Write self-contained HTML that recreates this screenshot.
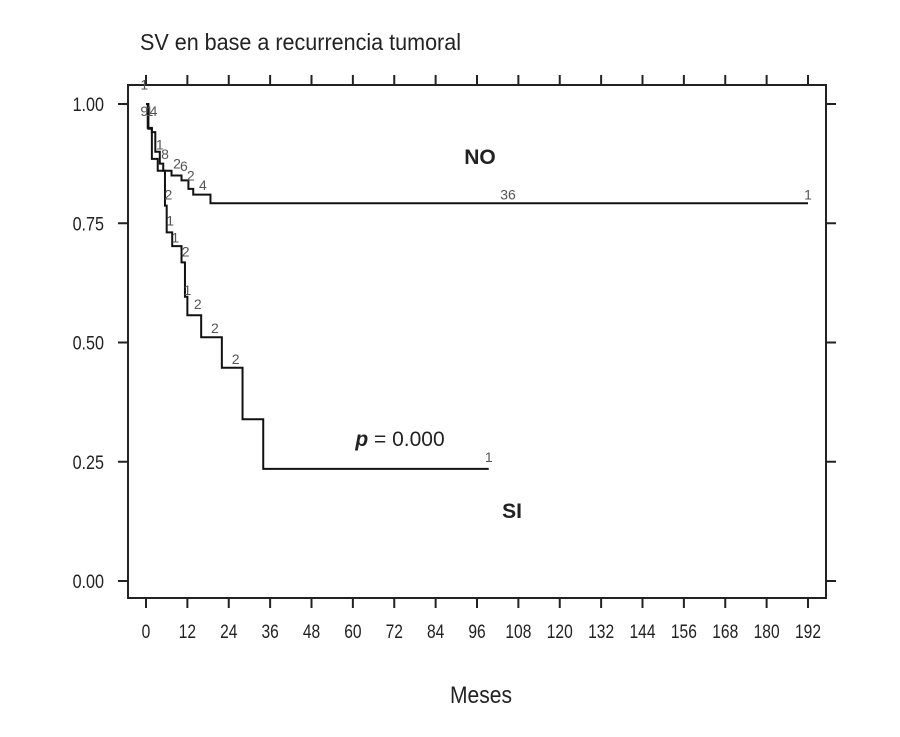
<!DOCTYPE html>
<html><head><meta charset="utf-8"><style>
html,body{margin:0;padding:0;background:#fff;}
svg{display:block;font-family:"Liberation Sans",sans-serif;}
</style></head><body>
<svg id="chart" width="900" height="737" viewBox="0 0 900 737">
<text x="140" y="50" font-size="23" textLength="321" lengthAdjust="spacingAndGlyphs" fill="#222">SV en base a recurrencia tumoral</text>
<rect x="128" y="85" width="698" height="513" fill="none" stroke="#222" stroke-width="2"/>
<g id="axes"></g>
<g id="curves"></g>
<g id="labels"></g>
<text x="480" y="164" font-size="21" font-weight="bold" text-anchor="middle" fill="#222">NO</text>
<text x="512" y="518" font-size="21" font-weight="bold" text-anchor="middle" fill="#222">SI</text>
<text x="400" y="446" font-size="21" text-anchor="middle" fill="#222"><tspan font-style="italic" font-weight="bold">p</tspan> = 0.000</text>
<text x="450" y="703" font-size="24" textLength="62" lengthAdjust="spacingAndGlyphs" fill="#222">Meses</text>
</svg>
<script>
const xTicks = [0,12,24,36,48,60,72,84,96,108,120,132,144,156,168,180,192];
const yTicks = [0,0.25,0.5,0.75,1];
const noTimes = [0,0.7,1.7,2.7,4,5,7.4,10.3,12.3,13.7,18.7,192];
const noSurv  = [1,0.948,0.941,0.90,0.875,0.86,0.85,0.84,0.822,0.81,0.792,0.792];
const siTimes = [0,0.5,1.7,3.4,5.5,6.0,7.6,10.3,11.3,12.0,16.0,22.0,28.0,34.0,99.4];
const siSurv  = [1,0.95,0.885,0.86,0.787,0.731,0.702,0.668,0.596,0.557,0.511,0.447,0.339,0.235,0.235];
const noLabels = [[-0.5,0.975,'9'],[1,0.975,'1'],[2.2,0.975,'4'],[5.5,0.885,'8'],[9,0.865,'2'],[11,0.86,'6'],[13,0.84,'2'],[16.5,0.82,'4'],[105,0.8,'36'],[192,0.8,'1']];
const siLabels = [[-0.5,1.03,'1'],[4,0.905,'1'],[6.5,0.80,'2'],[7,0.745,'1'],[8.5,0.71,'1'],[11.5,0.68,'2'],[12,0.60,'1'],[15,0.57,'2'],[20,0.52,'2'],[26,0.455,'2'],[99.4,0.25,'1']];
const NS='http://www.w3.org/2000/svg';
const xs = m => 146 + m*(662/192);
const ys = s => 581 - s*477;
function mk(tag, attrs, parent){const e=document.createElementNS(NS,tag);for(const k in attrs)e.setAttribute(k,attrs[k]);parent.appendChild(e);return e;}
const axes=document.getElementById('axes');
xTicks.forEach(t=>{
  const x=xs(t);
  let l=mk('line',{x1:x,x2:x,y1:598,y2:608,stroke:'#222','stroke-width':2},axes);
  
  
  let l2=mk('line',{x1:x,x2:x,y1:75,y2:85,stroke:'#222','stroke-width':2},axes);
  
  
  let tx=mk('text',{transform:'translate('+x+',638) scale(0.82,1)','font-size':19,'text-anchor':'middle',fill:'#222'},axes);
  tx.textContent=t;
  
  
});
yTicks.forEach(t=>{
  const y=ys(t);
  let l=mk('line',{x1:118,x2:128,y1:y,y2:y,stroke:'#222','stroke-width':2},axes);
  
  
  let l2=mk('line',{x1:826,x2:836,y1:y,y2:y,stroke:'#222','stroke-width':2},axes);
  
  
  let tx=mk('text',{transform:'translate(104,'+(y+7)+') scale(0.85,1)','font-size':19,'text-anchor':'end',fill:'#222'},axes);
  tx.textContent=t.toFixed(2);
  
  
});
const curves=document.getElementById('curves');
function step(times,surv,name){
  let d='M'+xs(times[0])+','+ys(surv[0]);
  for(let i=1;i<times.length;i++){d+=' H'+xs(times[i])+' V'+ys(surv[i]);}
  const p=mk('path',{d:d,fill:'none',stroke:'#111','stroke-width':2},curves);
  
  
}
step(noTimes,noSurv,'curve-no');
step(siTimes,siSurv,'curve-si');
const labels=document.getElementById('labels');
noLabels.concat(siLabels).forEach(a=>{
  const t=mk('text',{x:xs(a[0]),y:ys(a[1]),'font-size':14,'text-anchor':'middle',fill:'#555'},labels);
  t.textContent=a[2];
  
  
});
</script>
</body></html>
